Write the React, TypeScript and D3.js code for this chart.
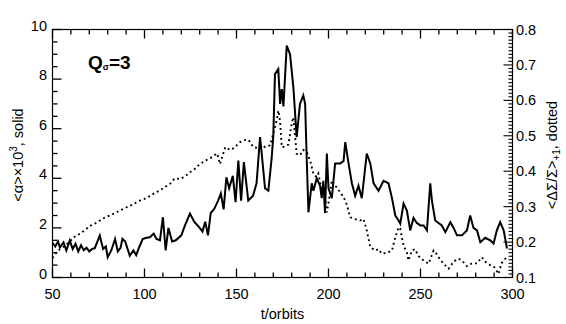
import React from "react";
import * as d3 from "d3";

// ---- data ----
const alphaT = [50, 51.5, 53, 54, 56, 57.5, 59.4, 61, 62.5, 64, 65.5, 67, 68.5, 70, 71.5, 73, 75.7, 77.5, 79, 80, 82, 84, 85.5, 87, 88, 89.5, 92, 94, 95.5, 97, 99, 101, 102.9, 105, 106.5, 108.4, 110, 111.5, 113, 115, 117, 120, 122, 124.7, 127, 130, 131.5, 133, 134.5, 136, 138, 140, 141.5, 143, 144.5, 146, 148, 149.5, 151, 152.5, 154, 156.4, 159, 160.9, 162.8, 163.7, 165.5, 167.3, 169.1, 170, 170.9, 172.7, 173.7, 174.6, 175.5, 177.3, 179.1, 180.9, 182.7, 184.5, 186.3, 187.3, 188.2, 189.1, 190.9, 191.8, 193.6, 195.4, 196.3, 197.2, 198.1, 199.1, 200, 201.8, 203.6, 206.4, 208.2, 209.1, 210.9, 212.7, 214.5, 216.3, 218.1, 219, 220.8, 222.7, 224.5, 227.2, 229.9, 232.6, 234.5, 236.3, 238.1, 239, 240.8, 242.6, 244.4, 246.2, 248, 249.9, 251.7, 253.5, 255.3, 256.2, 258, 259.8, 261.6, 263.5, 266.2, 268, 269.8, 272.5, 275.2, 277, 278.8, 280.7, 282.5, 285.2, 287.9, 289.7, 291.5, 293.3, 295.2, 297];
const alphaV = [1.4, 1.25, 1.45, 1.22, 1.42, 1.09, 1.49, 1.15, 1.36, 1.05, 1.3, 1.1, 1.2, 1.05, 1.15, 1.18, 1.69, 1.15, 1.25, 0.82, 1.1, 1.55, 1.05, 1.2, 1.56, 1.45, 0.88, 1.09, 0.9, 1.2, 1.55, 1.6, 1.62, 1.77, 1.55, 1.5, 2.43, 1.09, 2.0, 1.45, 1.5, 1.7, 2.1, 2.58, 2.25, 2.0, 1.85, 2.25, 1.7, 2.6, 2.78, 3.1, 3.39, 2.75, 4.04, 3.6, 4.1, 3.04, 4.72, 3.1, 4.65, 3.1, 3.3, 3.8, 5.66, 5.0, 3.6, 3.5, 4.8, 5.7, 8.2, 8.4, 7.0, 7.6, 6.9, 9.35, 9.0, 7.67, 5.66, 7.0, 7.34, 7.0, 4.7, 2.63, 3.8, 3.5, 4.0, 3.7, 3.2, 3.9, 2.6, 5.0, 3.6, 3.2, 4.6, 4.6, 4.7, 5.46, 4.6, 3.8, 3.3, 3.7, 3.2, 3.8, 5.0, 4.6, 3.8, 3.5, 3.9, 3.8, 3.2, 2.5, 2.3, 2.17, 2.98, 2.7, 1.9, 2.4, 2.2, 2.1, 2.1, 1.9, 3.8, 3.1, 2.3, 2.2, 2.1, 1.83, 2.23, 2.0, 1.7, 1.7, 1.9, 2.5, 2.0, 1.9, 1.42, 1.6, 1.5, 1.37, 1.9, 2.23, 1.9, 1.17];

const dsT = [50, 52, 54, 57, 60, 62, 65, 68, 70, 73, 75.7, 78, 81, 84, 86.6, 89, 92, 95, 97.5, 100, 103, 106, 108.4, 111, 114, 116.5, 119.3, 122, 124.7, 127, 130.1, 133, 135.6, 138, 139.5, 141, 143.9, 146.5, 148.5, 151.9, 155.5, 157, 159.1, 161.9, 163.7, 165.5, 168.2, 170, 171.8, 172.8, 173.7, 174.6, 176.4, 178.2, 180, 180.9, 181.8, 182.7, 184.5, 186.3, 188.2, 190, 191.8, 193.6, 194.5, 196.3, 198.1, 199.1, 200, 201.8, 203.6, 206.4, 208.2, 210, 211.8, 214.5, 217.2, 219, 220.8, 222.7, 225.4, 227.2, 229, 231.7, 234.5, 236.3, 238.1, 239, 240.8, 242.6, 243.5, 245.3, 247, 249, 251.7, 254.4, 257.1, 259, 260.7, 263.5, 265.3, 268, 270.7, 272.5, 275.2, 277.9, 280.7, 283.4, 285, 287.9, 290, 292.4, 294, 296.1, 297];
const dsV = [0.155, 0.17, 0.18, 0.19, 0.205, 0.215, 0.224, 0.235, 0.245, 0.252, 0.261, 0.268, 0.275, 0.282, 0.289, 0.295, 0.302, 0.31, 0.317, 0.322, 0.33, 0.34, 0.346, 0.355, 0.365, 0.38, 0.378, 0.385, 0.397, 0.405, 0.42, 0.43, 0.436, 0.445, 0.45, 0.42, 0.468, 0.46, 0.465, 0.482, 0.49, 0.485, 0.468, 0.465, 0.473, 0.468, 0.473, 0.506, 0.543, 0.571, 0.54, 0.468, 0.47, 0.475, 0.535, 0.552, 0.5, 0.449, 0.445, 0.46, 0.454, 0.43, 0.393, 0.383, 0.393, 0.346, 0.33, 0.284, 0.31, 0.374, 0.36, 0.34, 0.327, 0.305, 0.27, 0.265, 0.261, 0.265, 0.233, 0.186, 0.176, 0.18, 0.167, 0.17, 0.176, 0.214, 0.242, 0.237, 0.19, 0.17, 0.148, 0.176, 0.18, 0.16, 0.148, 0.139, 0.176, 0.165, 0.15, 0.134, 0.125, 0.145, 0.153, 0.148, 0.132, 0.14, 0.14, 0.157, 0.145, 0.135, 0.13, 0.11, 0.14, 0.153, 0.148];

const xTicks = [50, 100, 150, 200, 250, 300];
const yLeftTicks = [0, 2, 4, 6, 8, 10];
const yRightTicks = [0.1, 0.2, 0.3, 0.4, 0.5, 0.6, 0.7, 0.8];

const W = 566, H = 324;
const L = 52.5, R = 512.5, T = 29.5, B = 277.5;
const FONT = "'Liberation Sans', Arial, sans-serif";

export default function App() {
  const x = d3.scaleLinear().domain([50, 300]).range([L, R]);
  const yL = d3.scaleLinear().domain([0, 10]).range([B, T]);
  const yR = d3.scaleLinear().domain([0.1, 0.8]).range([B, T]);

  const lineA = d3.line<number>().x((_, i) => x(alphaT[i])).y((d) => yL(d));
  const lineD = d3.line<number>().x((_, i) => x(dsT[i])).y((d) => yR(d));

  const xMinor = d3.range(50, 301, 10);
  const yLMinor = d3.range(0, 21, 1).map((k) => k / 2);
  const yRMinor = d3.range(10, 81, 1);

  return (
    <svg width={W} height={H} style={{ position: "absolute", left: 0, top: 0, background: "#fff" }}>
      <path d={lineD(dsV) as string} fill="none" stroke="#000" strokeWidth={1.9} strokeDasharray="1.9 3.1" />
      <path d={lineA(alphaV) as string} fill="none" stroke="#000" strokeWidth={2} />
      <g stroke="#000" strokeWidth={1.3}>
        {xMinor.map((t) => {
          const len = t % 50 === 0 ? 9 : 5;
          const px = x(t);
          return (
            <g key={"x" + t}>
              <line x1={px} y1={B} x2={px} y2={B - len} />
              <line x1={px} y1={T} x2={px} y2={T + len} />
            </g>
          );
        })}
        {yLMinor.map((v, k) => {
          const len = k % 4 === 0 ? 9 : 5;
          const py = yL(v);
          return <line key={"l" + k} x1={L} y1={py} x2={L + len} y2={py} />;
        })}
        {yRMinor.map((k) => {
          const len = k % 10 === 0 ? 9 : 4;
          const py = yR(k / 100);
          return <line key={"r" + k} x1={R} y1={py} x2={R - len} y2={py} strokeWidth={1.1} />;
        })}
      </g>
      <rect x={L} y={T} width={R - L} height={B - T} fill="none" stroke="#000" strokeWidth={1.2} />
      <g fontFamily={FONT} fontSize={14.5} fill="#000">
        {xTicks.map((t) => (
          <text key={"xt" + t} x={x(t)} y={299} textAnchor="middle">{String(t)}</text>
        ))}
        {yLeftTicks.map((v) => (
          <text key={"yl" + v} x={47} y={yL(v) + 1} textAnchor="end">{String(v)}</text>
        ))}
        {yRightTicks.map((v) => (
          <text key={"yr" + v} x={516} y={yR(v) + 5}>{v.toFixed(1)}</text>
        ))}
        <text x={(L + R) / 2} y={319} textAnchor="middle">t/orbits</text>
        <text transform="translate(23,155) rotate(-90)" textAnchor="middle">
          <tspan>{"<α>×10"}</tspan>
          <tspan fontSize={10} dy={-6}>3</tspan>
          <tspan dy={6}>, solid</tspan>
        </text>
        <text transform="translate(557,155) rotate(-90)" textAnchor="middle">
          <tspan>{"<ΔΣ/Σ>"}</tspan>
          <tspan fontSize={10} dy={3}>+1</tspan>
          <tspan dy={-3}>, dotted</tspan>
        </text>
      </g>
      <text x={88} y={69} fontFamily={FONT} fontSize={19} fontWeight="bold" fill="#000">
        <tspan>Q</tspan>
        <tspan fontSize={9} dy={1}>σ</tspan>
        <tspan dy={-1}>=3</tspan>
      </text>
    </svg>
  );
}
